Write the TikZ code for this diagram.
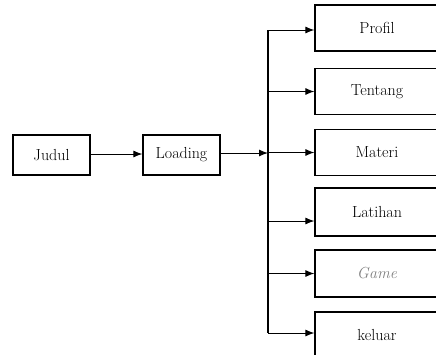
\documentclass[tikz,border=0pt]{standalone}
\usetikzlibrary{arrows.meta}
\tikzset{
  box/.style={draw,line width=1.2pt,minimum height=46pt,inner sep=0pt,font=\fontsize{16}{18}\selectfont},
  arr/.style={line width=1pt,-{Latex[length=9pt,width=7pt]}}
}
\begin{document}
\begin{tikzpicture}[x=1pt,y=-1pt]
    \useasboundingbox (0,0) rectangle (436,354);
    % left part
    \node[box,minimum width=77pt,minimum height=40pt] (judul) at (51.5,155) {Judul};
    \node[box,minimum width=77pt,minimum height=40pt] (loading) at (181.5,155) {Loading};
    % menu boxes, cut at the right edge
    \node[box,minimum width=124pt] (profil) at (377,28) {Profil};
    \node[box,minimum width=124pt] (tentang) at (377,91.5) {Tentang};
    \node[box,minimum width=124pt] (materi) at (377,152.5) {Materi};
    \node[box,minimum width=124pt,minimum height=48pt] (latihan) at (377,212) {Latihan};
    \node[box,minimum width=124pt,minimum height=47pt] (game) at (377,273.5) {\textcolor{gray}{\itshape Game}};
    \node[box,minimum width=124pt] (keluar) at (377,335) {keluar};
    \coordinate (top) at (268,30);
    \coordinate (bot) at (268,333);
    \draw[line width=1.3pt] (top) -- (bot);
    \draw[arr] (judul.east |- 0,154) -- (loading.west |- 0,154);
    \draw[arr] (loading.east |- 0,153) -- (top |- 0,153);
    \draw[arr] (top) -- (profil.west |- top);
    \draw[arr] (top |- tentang.west) -- (tentang.west);
    \draw[arr] (top |- materi.west) -- (materi.west);
    \draw[arr] (top |- 0,221) -- (latihan.west |- 0,221);
    \draw[arr] (top |- game.west) -- (game.west);
    \draw[arr] (bot) -- (keluar.west |- bot);
\end{tikzpicture}
\end{document}
